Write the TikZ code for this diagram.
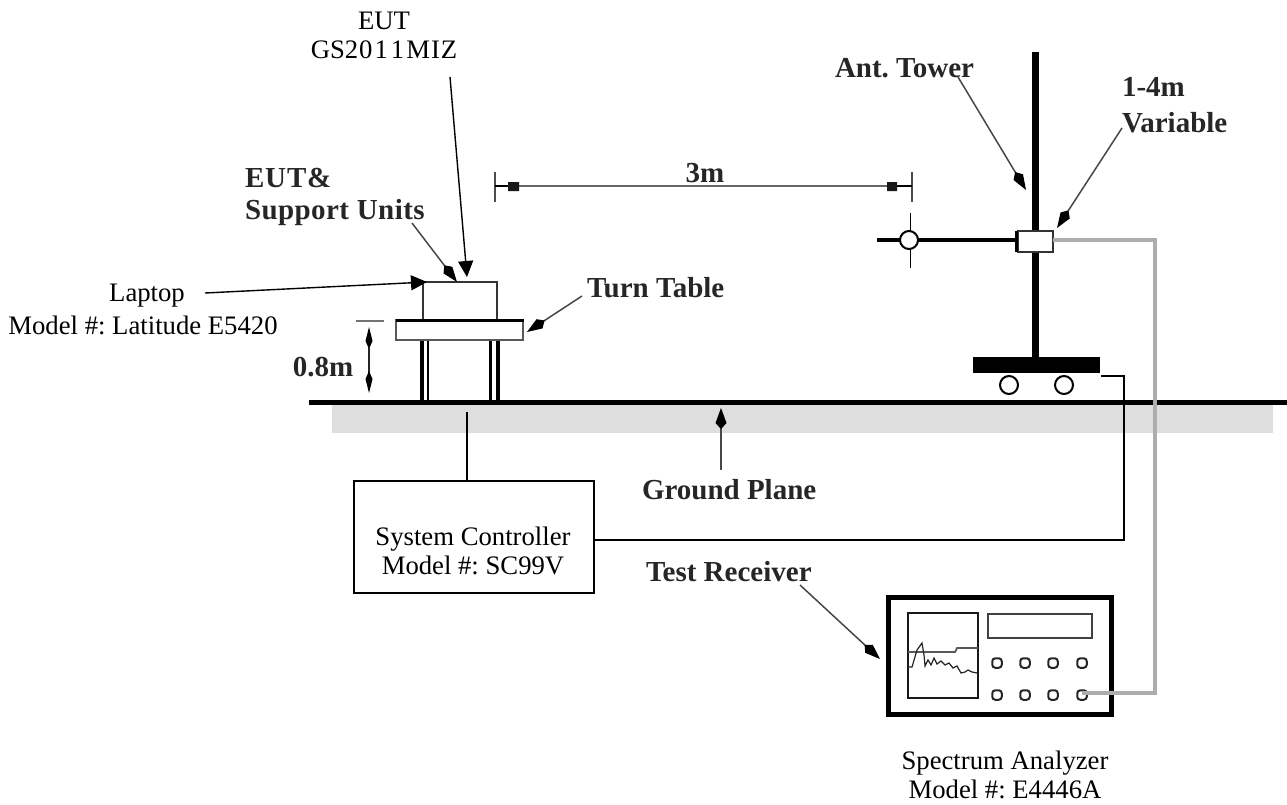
\documentclass[tikz,border=0pt]{standalone}
\usepackage{fontspec}
\setmainfont{Liberation Serif}
\usetikzlibrary{arrows.meta}
\definecolor{cablegray}{gray}{0.68}
\definecolor{groundgray}{gray}{0.87}
\tikzset{
 x=1pt,y=-1pt,
 every node/.style={outer sep=0pt},
 plain/.style={font=\fontsize{26.7}{29}\selectfont\frenchspacing,align=center,inner sep=0pt,text=black},
 boldlabel/.style={font=\fontsize{29}{36}\selectfont\bfseries\frenchspacing,align=left,inner sep=0pt,text=black!85},
 callout/.style={-{Kite[length=21pt,width=11pt,inset=6pt,color=black]},line width=1.5pt,black!72},
 pointer/.style={-{Stealth[length=16pt,width=15pt,inset=0pt]},line width=1.4pt,black},
 wire/.style={line width=1.4pt,black},
 cable/.style={line width=4.5pt,cablegray,line join=miter},
 whitebox/.style={draw=black,fill=white,line width=1.5pt,inner sep=0pt},
 knob/.style={rectangle,rounded corners=3pt,draw=black!85,fill=white,line width=2pt,minimum size=9.5pt,inner sep=0pt},
 wheel/.style={circle,draw=black,fill=white,line width=2pt,minimum size=18pt,inner sep=0pt},
}
\begin{document}
\begin{tikzpicture}
\useasboundingbox (0,0) rectangle (1287,804);
% ground
\fill[groundgray] (332,405) rectangle (1273,433);
\fill[black] (309,399.5) rectangle (1287,405);
% laptop
\coordinate (lapNW) at (427,282);
\draw[black!80,line width=1.7pt,fill=white] (423,320) -- (423,282) -- (497,282) -- (497,320);
% legs
\draw[black,line width=4pt] (421.5,340) -- (421.5,400);
\draw[black,line width=2pt] (428,340) -- (428,400);
\draw[black,line width=2.2pt] (490.5,340) -- (490.5,400);
\draw[black,line width=4pt] (498,340) -- (498,400);
% table
\node[whitebox,draw=black!65,anchor=north west,minimum width=127pt,minimum height=20pt] (turntable) at (396,320) {};
\draw[black,line width=3pt] (395.5,320.5) -- (523.5,320.5);
% 0.8m dimension
\coordinate (tick1) at (356,321); \coordinate (tick2) at (384,321);
\draw[black!55,line width=1.5pt] (tick1) -- (tick2);
\coordinate (d1) at (369,327); \coordinate (d2) at (369,393);
\draw[{Kite[length=22pt,width=7pt,inset=8pt,color=black]}-{Kite[length=22pt,width=7pt,inset=8pt,color=black]},line width=1.2pt,black!85] (d1) -- (d2);
\node[boldlabel] (h) at (323,367) {0.8m};
% 3m dimension
\coordinate (m1) at (495,186); \coordinate (m2) at (912,186);
\draw[line width=1.3pt,black!60] (m1) -- (m2);
\draw[line width=1.2pt,black!70] (495,172) -- (495,202) (912,172) -- (912,202);
\draw[line width=2pt,black] (495,186) -- (510,186) (897,186) -- (912,186);
\fill[black!90] (508,182) rectangle (519,191) (887,182) rectangle (897,191);
\node[boldlabel] (three) at (705,173) {3m};
% tower
\fill[black] (1032,52) rectangle (1039,358);
\node[fill=black,inner sep=0pt,minimum width=127pt,minimum height=16pt,anchor=north west] (base) at (973,357) {};
\node[wheel] (w1) at (1009,385) {};
\node[wheel] (w2) at (1064,385) {};
% slider
\node[whitebox,draw=black!80,anchor=north west,minimum width=35pt,minimum height=21pt] (slider) at (1018,231) {};
% arm
\draw[black,line width=1pt] (910,213) -- (910,268);
\draw[black,line width=4.5pt] (877,240) -- (1016,240);
\fill[black] (1015,231) rectangle (1018,252);
\node[circle,draw=black,fill=white,line width=2pt,minimum size=18pt,inner sep=0pt] (ant) at (909,240) {};
% analyzer
\node[draw=black,fill=white,line width=5pt,anchor=north west,minimum width=223pt,minimum height=117pt,inner sep=0pt] (sa) at (888.5,597.5) {};
\node[draw=black!90,line width=1.7pt,anchor=north west,minimum width=70pt,minimum height=85pt,inner sep=0pt] (screen) at (908,613) {};
\node[draw=black!75,line width=1.7pt,anchor=north west,minimum width=104pt,minimum height=24pt,inner sep=0pt] (disp) at (988,614) {};
\draw[black!65,line width=1.8pt] (908,652) -- (955,652) -- (957,648) -- (978,648);
\draw[black!85,line width=1.2pt] (908,667) -- (912,667) -- (917,650) -- (922,643) -- (924,655) -- (925,666) -- (928,660) -- (931,665) -- (934,658) -- (937,664) -- (941,661) -- (945,665) -- (949,663) -- (953,668) -- (957,666) -- (961,673) -- (965,672) -- (968,670) -- (972,672) -- (977,673);
\foreach \n/\kx in {a/997,b/1025,c/1053,d/1082}{
 \node[knob] (k1\n) at (\kx,663) {};
 \node[knob] (k2\n) at (\kx,695) {};
}
% gray cable
\coordinate (c1) at (1155,240); \coordinate (c2) at (1155,693);
\draw[cable] (slider.east |- c1) -- (c1) -- (c2) -- (k2d.center |- c2);
% system controller
\node[draw=black,fill=white,line width=1.5pt,anchor=north west,minimum width=240pt,minimum height=112pt,inner sep=0pt] (sc) at (354,481) {};
\node[plain] (sctext) at (473,551) {System Controller\\Model \#: SC99V};
\coordinate (g1) at (467,412);
\draw[wire] (g1) -- (sc.north -| g1);
\coordinate (w1a) at (1124,540); \coordinate (w1b) at (1124,376); \coordinate (w1c) at (1101,376);
\draw[wire] (sc.east |- w1a) -- (w1a) -- (w1b) -- (w1c);
% plain text
\node[plain] (eut) at (384,35) {EUT\\GS2\kern1pt0\kern2pt1\kern3pt1\kern2ptM\kern1ptI\kern1ptZ};
\node[plain] (lap) at (147,296) {Laptop};
\node[plain] (lapm) at (143,325) {Model \#: Latitude E5420};
\node[plain] (spec) at (1005,775) {Spectrum Analyzer\\Model \#: E4446A};
% bold labels
\node[boldlabel,anchor=west] (l1) at (245,178) {\addfontfeature{LetterSpace=3}EUT\&};
\node[boldlabel,anchor=west] (l2) at (245,213) {\addfontfeature{LetterSpace=1.5}Support Units};
\node[boldlabel,anchor=west] (tt) at (587,288) {Turn Table};
\node[boldlabel,anchor=west] (gp) at (642,490) {Ground Plane};
\node[boldlabel,anchor=west] (tr) at (646,572) {Test Receiver};
\node[boldlabel,anchor=west] (at) at (835,68) {Ant. Tower};
\node[boldlabel,anchor=west] (v1) at (1122,87) {1-4m};
\node[boldlabel,anchor=west] (v2) at (1122,123) {Variable};
% pointers
\coordinate (p1) at (450,77); \coordinate (p2) at (467,277);
\draw[pointer] (p1) -- (p2);
\coordinate (p3) at (205,293);
\draw[pointer] (p3) -- (lapNW);
% callouts
\coordinate (ca1) at (412,223); \coordinate (ca2) at (457,282);
\draw[callout] (ca1) -- (ca2);
\coordinate (cb1) at (582,296); \coordinate (cb2) at (527,332);
\draw[callout] (cb1) -- (cb2);
\coordinate (cc1) at (958,77); \coordinate (cc2) at (1026,190);
\draw[callout] (cc1) -- (cc2);
\coordinate (cd1) at (1122,128); \coordinate (cd2) at (1057,228);
\draw[callout] (cd1) -- (cd2);
\coordinate (ce1) at (800,585); \coordinate (ce2) at (880,659);
\draw[callout] (ce1) -- (ce2);
\coordinate (cf1) at (721,470); \coordinate (cf2) at (721,408);
\draw[callout] (cf1) -- (cf2);
\end{tikzpicture}
\end{document}
